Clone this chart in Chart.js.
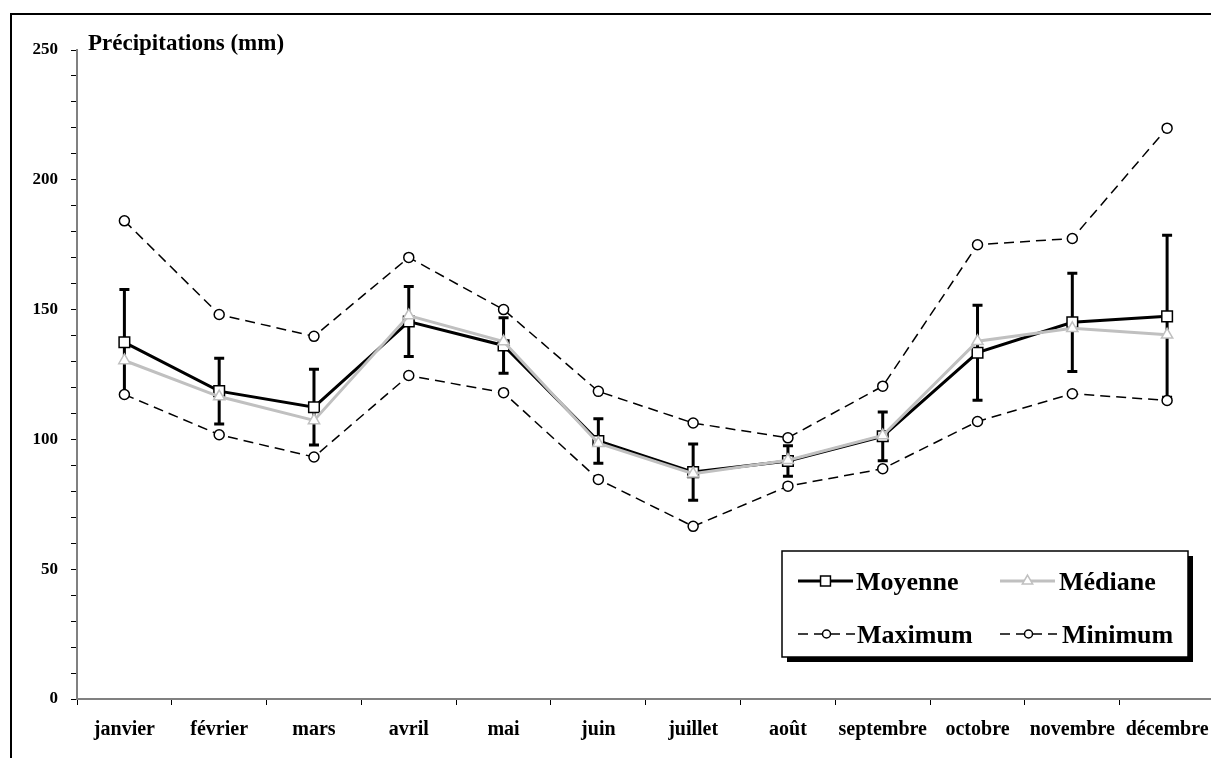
<!DOCTYPE html>
<html><head><meta charset="utf-8">
<script src="https://cdn.jsdelivr.net/npm/chart.js@4.4.1/dist/chart.umd.min.js"></script>
<style>
html,body{margin:0;padding:0;background:#fff;overflow:hidden;width:1211px;height:758px;}
#frame{position:absolute;left:10px;top:13px;width:1400px;height:900px;border:2px solid #000;box-sizing:border-box;}
#c{position:absolute;left:0;top:0;}
</style></head><body>
<div id="frame"></div>
<canvas id="c" width="1230" height="758" style="width:1230px;height:758px"></canvas>
<script>
const mois = ['janvier','février','mars','avril','mai','juin','juillet','août','septembre','octobre','novembre','décembre'];
const moyenne = [137.4, 118.6, 112.4, 145.4, 136.2, 99.4, 87.4, 91.7, 101.2, 133.4, 145.1, 147.4];
const ecartType = [20.3, 12.7, 14.6, 13.5, 10.7, 8.6, 10.8, 5.9, 9.4, 18.3, 18.9, 31.2];
const mediane = [130.4, 116.5, 107.3, 147.7, 137.7, 98.5, 86.8, 92.0, 101.5, 137.8, 142.8, 140.3];
const maximum = [184.2, 148.1, 139.7, 170.1, 150.0, 118.5, 106.3, 100.6, 120.5, 175.0, 177.4, 219.9];
const minimum = [117.3, 101.8, 93.2, 124.6, 118.0, 84.6, 66.5, 82.0, 88.7, 106.9, 117.6, 115.0];
const titreAxe = 'Précipitations (mm)';
const yMin = 0, yMax = 250, yStep = 10, yLabelStep = 50;

const SERIF = '"Liberation Serif", "Times New Roman", serif';

function marker(ctx, style, x, y, r, fill, stroke, bw) {
  ctx.save();
  ctx.setLineDash([]);
  ctx.fillStyle = fill; ctx.strokeStyle = stroke; ctx.lineWidth = bw;
  ctx.beginPath();
  if (style === 'rect') {
    const s = r * Math.SQRT1_2;
    ctx.rect(x - s, y - s, 2 * s, 2 * s);
  } else if (style === 'triangle') {
    let a = 0;
    ctx.moveTo(x + Math.sin(a) * r, y - Math.cos(a) * r);
    a += 2 * Math.PI / 3; ctx.lineTo(x + Math.sin(a) * r, y - Math.cos(a) * r);
    a += 2 * Math.PI / 3; ctx.lineTo(x + Math.sin(a) * r, y - Math.cos(a) * r);
    ctx.closePath();
  } else {
    ctx.arc(x, y, r, 0, Math.PI * 2);
  }
  ctx.fill(); ctx.stroke();
  ctx.restore();
}

const errorBars = {
  id: 'errorBars',
  beforeDatasetsDraw(chart) {
    const ctx = chart.ctx, xs = chart.scales.x, ys = chart.scales.y;
    ctx.save();
    ctx.strokeStyle = '#000';
    ctx.lineWidth = 3;
    ctx.lineCap = 'butt';
    moyenne.forEach((m, i) => {
      const x = xs.getPixelForValue(i);
      const yt = ys.getPixelForValue(m + ecartType[i]);
      const yb = ys.getPixelForValue(m - ecartType[i]);
      ctx.beginPath();
      ctx.moveTo(x, yt); ctx.lineTo(x, yb);
      ctx.moveTo(x - 5, yt); ctx.lineTo(x + 5, yt);
      ctx.moveTo(x - 5, yb); ctx.lineTo(x + 5, yb);
      ctx.stroke();
    });
    ctx.restore();
  }
};

const decor = {
  id: 'decor',
  afterDraw(chart) {
    const ctx = chart.ctx;
    ctx.save();
    // axis title
    ctx.fillStyle = '#000';
    ctx.font = 'bold 23px ' + SERIF;
    ctx.textBaseline = 'alphabetic';
    ctx.textAlign = 'left';
    ctx.fillText(titreAxe, 88, 49.5);

    // legend box
    const bx = 782, by = 551, bw = 406, bh = 106;
    ctx.fillStyle = '#000';
    ctx.fillRect(bx + 5, by + 5, bw, bh);
    ctx.fillStyle = '#fff';
    ctx.fillRect(bx, by, bw, bh);
    ctx.strokeStyle = '#000';
    ctx.lineWidth = 1.5;
    ctx.strokeRect(bx, by, bw, bh);

    const ds = chart.data.datasets;
    const items = [
      {d: ds.find(d => d.label === 'Moyenne'), x0: 798, x1: 853, y: 581, tx: 856, r: 7},
      {d: ds.find(d => d.label === 'Médiane'), x0: 1000, x1: 1055, y: 581, tx: 1059, r: 6},
      {d: ds.find(d => d.label === 'Maximum'), x0: 798, x1: 855, y: 634, tx: 857, r: 4},
      {d: ds.find(d => d.label === 'Minimum'), x0: 1000, x1: 1057, y: 634, tx: 1062, r: 4}
    ];
    items.forEach(it => {
      const d = it.d;
      ctx.save();
      ctx.strokeStyle = d.borderColor;
      ctx.lineWidth = d.borderWidth;
      ctx.setLineDash(d.borderDash || []);
      ctx.beginPath();
      ctx.moveTo(it.x0, it.y); ctx.lineTo(it.x1, it.y);
      ctx.stroke();
      ctx.restore();
      marker(ctx, d.pointStyle, (it.x0 + it.x1) / 2, it.y, it.r, d.pointBackgroundColor, d.pointBorderColor, d.pointBorderWidth);
      ctx.fillStyle = '#000';
      ctx.font = 'bold 26px ' + SERIF;
      ctx.textBaseline = 'alphabetic';
      ctx.fillText(d.label, it.tx, it.y + 8.5);
    });
    ctx.restore();
  }
};

new Chart(document.getElementById('c'), {
  type: 'line',
  data: {
    labels: mois,
    datasets: [
      {label: 'Moyenne', data: moyenne, order: 1, borderColor: '#000', borderWidth: 3,
       pointStyle: 'rect', pointRadius: 7.5, pointHoverRadius: 7.5, pointBackgroundColor: '#fff',
       pointBorderColor: '#000', pointBorderWidth: 1.5, tension: 0},
      {label: 'Médiane', data: mediane, order: 0, borderColor: '#c0c0c0', borderWidth: 3,
       pointStyle: 'triangle', pointRadius: 6.5, pointHoverRadius: 6.5, pointBackgroundColor: '#fff',
       pointBorderColor: '#c0c0c0', pointBorderWidth: 1.5, tension: 0},
      {label: 'Maximum', data: maximum, order: 2, borderColor: '#000', borderWidth: 1.5, borderDash: [10, 6],
       pointStyle: 'circle', pointRadius: 5, pointHoverRadius: 5, pointBackgroundColor: '#fff',
       pointBorderColor: '#000', pointBorderWidth: 1.5, tension: 0},
      {label: 'Minimum', data: minimum, order: 2, borderColor: '#000', borderWidth: 1.5, borderDash: [10, 6],
       pointStyle: 'circle', pointRadius: 5, pointHoverRadius: 5, pointBackgroundColor: '#fff',
       pointBorderColor: '#000', pointBorderWidth: 1.5, tension: 0}
    ]
  },
  options: {
    responsive: false,
    animation: false,
    devicePixelRatio: 1,
    layout: {padding: {top: 50, right: 15.5, bottom: 0, left: 0}},
    plugins: {legend: {display: false}, tooltip: {enabled: false}, title: {display: false}},
    events: [],
    scales: {
      x: {
        type: 'category',
        offset: true,
        grid: {offset: true, drawOnChartArea: false, drawTicks: true, tickLength: 6, color: '#000', lineWidth: 1},
        border: {display: true, color: '#808080', width: 2},
        ticks: {color: '#000', font: {family: SERIF, size: 20, weight: 'bold'}, padding: 13, maxRotation: 0, autoSkip: false},
        afterFit(s) { s.height = 59; }
      },
      y: {
        min: yMin, max: yMax,
        grid: {drawOnChartArea: false, drawTicks: true, tickLength: 6, color: '#000', lineWidth: 1},
        border: {display: true, color: '#808080', width: 2},
        ticks: {stepSize: yStep, autoSkip: false, color: '#000', padding: 13,
                font: {family: SERIF, size: 17, weight: 'bold'},
                callback: v => (v % yLabelStep === 0 ? String(v) : '')},
        afterFit(s) { s.width = 77; }
      }
    }
  },
  plugins: [errorBars, decor]
});
</script>
</body></html>
